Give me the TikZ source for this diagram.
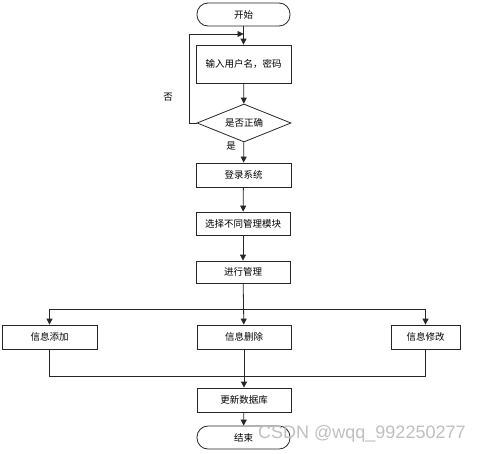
\documentclass[tikz,border=0pt]{standalone}
\usepackage{fontspec}
\newfontfamily\cjk{Noto Sans CJK SC}
\setsansfont{Liberation Sans}
\usetikzlibrary{shapes.geometric}
\usetikzlibrary{arrows.meta}
\tikzset{
	line/.style={draw=black!85, line width=0.8pt},
	arr/.style={line, -{Triangle[length=6pt,width=6pt]}},
	box/.style={line, rectangle, inner sep=0pt, font=\cjk\fontsize{9.5}{11}\selectfont},
	term/.style={box, rounded corners=11pt},
	cond/.style={box, diamond, aspect=2.5},
	lbl/.style={font=\cjk\fontsize{9.5}{11}\selectfont}
}
\begin{document}
\begin{tikzpicture}[x=1pt, y=-1pt]
	% page 486 x 453
	\useasboundingbox (0, 0) rectangle (486, 453);
	% main column
	\node[term, minimum width=93pt, minimum height=23pt] (start) at (243.5, 14.5) {开始};
	\node[box, minimum width=95pt, minimum height=38pt] (input) at (243.5, 64) {输入用户名，密码};
	\node[cond, minimum width=94pt, minimum height=38pt] (check) at (244, 123) {是否正确};
	\node[box, minimum width=95pt, minimum height=24pt] (login) at (243.5, 175) {登录系统};
	\node[box, minimum width=94pt, minimum height=23pt] (choose) at (243, 223.5) {选择不同管理模块};
	\node[box, minimum width=94pt, minimum height=22pt] (manage) at (243, 272) {进行管理};
	% branches
	\node[box, minimum width=95pt, minimum height=24pt] (add) at (49.5, 337) {信息添加};
	\node[box, minimum width=94pt, minimum height=24pt] (del) at (244, 337) {信息删除};
	\node[box, minimum width=69pt, minimum height=24pt] (mod) at (425.5, 337) {信息修改};
	\node[box, minimum width=94pt, minimum height=24pt] (update) at (244, 400) {更新数据库};
	\node[term, minimum width=93pt, minimum height=23pt] (finish) at (243.5, 437.5) {结束};
	% labels
	\node[lbl] (no) at (168, 97) {否};
	\node[lbl] (yes) at (231, 146) {是};
	% helper points
	\coordinate (loopin) at (243.5, 34);
	\coordinate (loopl) at (189, 34);
	\coordinate (splitl) at (49.5, 309);
	\coordinate (splitr) at (425.5, 309);
	\coordinate (mergel) at (49.5, 376);
	\coordinate (merger) at (425.5, 376);
	% connectors
	\draw[arr] (start) -- (input);
	\draw[arr] (input) -- (check);
	\draw[arr] (check) -- (login);
	\draw[arr] (login) -- (choose);
	\draw[arr] (choose) -- (manage);
	\draw[arr] (check.west) -| (loopl) -- (loopin);
	\draw[arr] (manage) -- (del);
	\draw[line] (splitl) -- (splitr);
	\draw[arr] (splitl) -- (add);
	\draw[arr] (splitr) -- (mod);
	\draw[line] (add) -- (mergel) -- (merger) -- (mod);
	\draw[arr] (del) -- (update);
	\draw[arr] (update) -- (finish);
	% watermark
	\node[font=\sffamily\fontsize{18}{20}\selectfont, text=black!25, anchor=west, inner sep=0pt] (mark) at (258, 434) {CSDN @wqq\_992250277};
\end{tikzpicture}
\end{document}
